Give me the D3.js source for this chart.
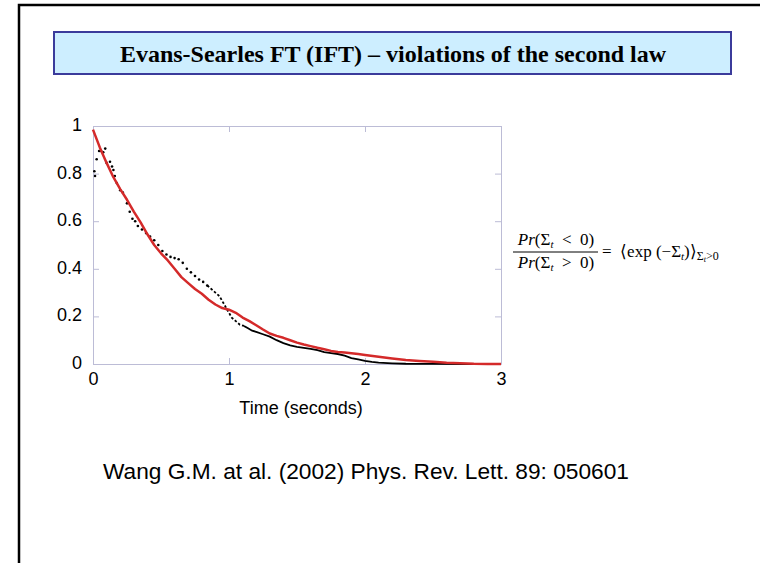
<!DOCTYPE html>
<html>
<head>
  <meta charset="utf-8">
  <title>Evans-Searles FT</title>
  <script src="https://d3js.org/d3.v7.min.js"></script>
  <style>
    body { margin: 0; background: #fff; }
    svg { display: block; }
  </style>
</head>
<body>
<script>
// red curve: <exp(-Sigma_t)> for Sigma_t > 0
var redT = [0, 0.05, 0.10, 0.15, 0.20, 0.25, 0.30, 0.35, 0.40, 0.45, 0.50, 0.55, 0.60, 0.65, 0.70, 0.75,
  0.80, 0.85, 0.90, 0.95, 1.00, 1.05, 1.10, 1.15, 1.20, 1.25, 1.30, 1.35, 1.40, 1.45, 1.50, 1.55,
  1.60, 1.65, 1.70, 1.75, 1.80, 1.85, 1.90, 1.95, 2.00, 2.10, 2.20, 2.30, 2.40, 2.50, 2.60, 2.70,
  2.80, 2.90, 3.00];
var redV = [0.985, 0.91, 0.845, 0.785, 0.735, 0.69, 0.64, 0.595, 0.545, 0.50, 0.465, 0.435, 0.40, 0.365, 0.34, 0.315,
  0.295, 0.27, 0.25, 0.235, 0.228, 0.215, 0.195, 0.18, 0.163, 0.145, 0.128, 0.118, 0.11, 0.10, 0.09, 0.082,
  0.075, 0.068, 0.062, 0.055, 0.05, 0.048, 0.045, 0.042, 0.038, 0.03, 0.023, 0.017, 0.013, 0.009, 0.005, 0.003,
  0.001, 0.0005, 0];

// black points: Pr(Sigma_t < 0) / Pr(Sigma_t > 0)
var blackT = [0.01, 0.015, 0.027, 0.045, 0.06, 0.075, 0.09, 0.10, 0.125, 0.14, 0.15, 0.16, 0.175, 0.20, 0.22, 0.25,
  0.27, 0.29, 0.31, 0.33, 0.36, 0.39, 0.42, 0.45, 0.48, 0.51, 0.54, 0.57, 0.60, 0.63, 0.66, 0.69,
  0.72, 0.75, 0.78, 0.81, 0.84, 0.87, 0.90, 0.93, 0.96, 0.99, 1.02, 1.05, 1.08, 1.11, 1.14, 1.17,
  1.20, 1.25, 1.30, 1.35, 1.40, 1.45, 1.50, 1.55, 1.60, 1.65, 1.70, 1.75, 1.80, 1.85, 1.90, 1.95,
  2.00, 2.05, 2.10, 2.20, 2.30, 2.50, 2.80, 3.00];
var blackV = [0.81, 0.79, 0.86, 0.895, 0.895, 0.89, 0.905, 0.845, 0.85, 0.83, 0.815, 0.79, 0.76, 0.73, 0.72, 0.675,
  0.64, 0.61, 0.60, 0.58, 0.565, 0.55, 0.535, 0.52, 0.50, 0.475, 0.46, 0.45, 0.445, 0.44, 0.425, 0.40,
  0.385, 0.37, 0.355, 0.345, 0.33, 0.315, 0.30, 0.285, 0.255, 0.225, 0.195, 0.18, 0.165, 0.16, 0.15, 0.14,
  0.135, 0.125, 0.115, 0.10, 0.088, 0.078, 0.072, 0.068, 0.064, 0.058, 0.05, 0.046, 0.042, 0.035, 0.025, 0.019,
  0.013, 0.009, 0.006, 0.003, 0.001, 0.0005, 0, 0];

var xTicks = [0, 1, 2, 3];
var yTicks = [0, 0.2, 0.4, 0.6, 0.8, 1];

var titleText = "Evans-Searles FT (IFT) \u2013 violations of the second law";
var xLabel = "Time (seconds)";
var citation = "Wang G.M. at al. (2002) Phys. Rev. Lett. 89: 050601";

var width = 760, height = 563;
var svg = d3.select("body").append("svg").attr("width", width).attr("height", height);

// slide frame
svg.append("path")
  .attr("d", "M19,563V5H760")
  .attr("fill", "none").attr("stroke", "#000").attr("stroke-width", 2.5);

// title box
svg.append("rect")
  .attr("x", 54).attr("y", 32).attr("width", 677).attr("height", 42)
  .attr("fill", "#cdeeff").attr("stroke", "#3b3b9b").attr("stroke-width", 2);
svg.append("text")
  .attr("x", 393).attr("y", 62)
  .attr("text-anchor", "middle")
  .style("font-family", "'Liberation Serif', 'Times New Roman', serif")
  .style("font-weight", "bold").style("font-size", "24px")
  .text(titleText);

// plot
var x0 = 93, x1 = 501, y0 = 364, y1 = 126;
var x = d3.scaleLinear().domain([0, 3]).range([x0, x1]);
var y = d3.scaleLinear().domain([0, 1]).range([y0, y1]);
var axisColor = "#bcbcd6";
var tickFont = "'Liberation Sans', Arial, sans-serif";

function styleAxis(g) {
  g.selectAll(".domain").attr("stroke", axisColor);
  g.selectAll(".tick line").attr("stroke", axisColor);
  g.selectAll("text").attr("fill", "#000").style("font-family", tickFont).style("font-size", "18px");
}

svg.append("g").attr("transform", "translate(0," + y0 + ")")
  .call(d3.axisBottom(x).tickValues(xTicks).tickFormat(d3.format("d")).tickSizeInner(-6).tickSizeOuter(0).tickPadding(8))
  .call(styleAxis);
svg.append("g").attr("transform", "translate(0," + y1 + ")")
  .call(d3.axisTop(x).tickValues(xTicks).tickFormat("").tickSizeInner(-6).tickSizeOuter(0))
  .call(styleAxis);
svg.append("g").attr("transform", "translate(" + x0 + ",0)")
  .call(d3.axisLeft(y).tickValues(yTicks).tickFormat(function(d) { return String(+d.toFixed(1)); }).tickSizeInner(-6).tickSizeOuter(0).tickPadding(11))
  .call(styleAxis)
  .selectAll("text").attr("dy", "0.25em");
svg.append("g").attr("transform", "translate(" + x1 + ",0)")
  .call(d3.axisRight(y).tickValues(yTicks).tickFormat("").tickSizeInner(-6).tickSizeOuter(0))
  .call(styleAxis);

var redData = redT.map(function(t, i) { return [t, redV[i]]; });
var blackData = blackT.map(function(t, i) { return [t, blackV[i]]; });

var line = d3.line().x(function(d) { return x(d[0]); }).y(function(d) { return y(d[1]); });

// black: dots early, continuous line later
svg.append("path")
  .datum(blackData.filter(function(d) { return d[0] >= 1.1; }))
  .attr("d", line)
  .attr("fill", "none").attr("stroke", "#000").attr("stroke-width", 1.8);
svg.append("path")
  .datum(blackData.filter(function(d) { return d[0] >= 0.84 && d[0] <= 1.11; }))
  .attr("d", line)
  .attr("fill", "none").attr("stroke", "#000").attr("stroke-width", 1.8)
  .attr("stroke-dasharray", "2.5,2");
svg.append("g").selectAll("circle")
  .data(blackData.filter(function(d) { return d[0] < 0.85; }))
  .enter().append("circle")
  .attr("cx", function(d) { return x(d[0]); })
  .attr("cy", function(d) { return y(d[1]); })
  .attr("r", 1.3).attr("fill", "#000");

svg.append("path")
  .datum(redData)
  .attr("d", line)
  .attr("fill", "none").attr("stroke", "#d42a2a").attr("stroke-width", 2.5)
  .attr("stroke-linejoin", "round");

// x label
svg.append("text")
  .attr("x", 301).attr("y", 414).attr("text-anchor", "middle")
  .style("font-family", tickFont).style("font-size", "18px")
  .text(xLabel);

// formula
var mathFont = "'Liberation Serif', 'Times New Roman', serif";
var f = svg.append("g").style("font-family", mathFont).style("font-size", "17px");
function fracPart(yy, sign) {
  var t = f.append("text").attr("x", 556).attr("y", yy).attr("text-anchor", "middle")
    .attr("xml:space", "preserve");
  t.append("tspan").style("font-style", "italic").text("Pr");
  t.append("tspan").text("(\u03A3");
  t.append("tspan").style("font-style", "italic").style("font-size", "11px").attr("dy", 3).text("t");
  t.append("tspan").attr("dy", -3).text("  " + sign + "  0)");
}
fracPart(245, "<");
fracPart(268, ">");
f.append("line").attr("x1", 513).attr("x2", 598).attr("y1", 252).attr("y2", 252)
  .attr("stroke", "#000").attr("stroke-width", 1);
var r = f.append("text").attr("x", 602).attr("y", 257).attr("xml:space", "preserve");
r.append("tspan").text("=  \u27E8exp (\u2212\u03A3");
r.append("tspan").style("font-style", "italic").style("font-size", "11px").attr("dy", 3).text("t");
r.append("tspan").attr("dy", -3).text("))");
r.select("tspan:last-child").text(")\u27E9");
r.append("tspan").style("font-size", "12px").attr("dy", 3).text("\u03A3");
r.append("tspan").style("font-size", "8px").style("font-style", "italic").attr("dy", 2).text("t");
r.append("tspan").style("font-size", "12px").attr("dy", -2).text(">0");

// citation
svg.append("text")
  .attr("x", 103).attr("y", 479)
  .style("font-family", tickFont).style("font-size", "22.7px")
  .text(citation);
</script>
</body>
</html>
